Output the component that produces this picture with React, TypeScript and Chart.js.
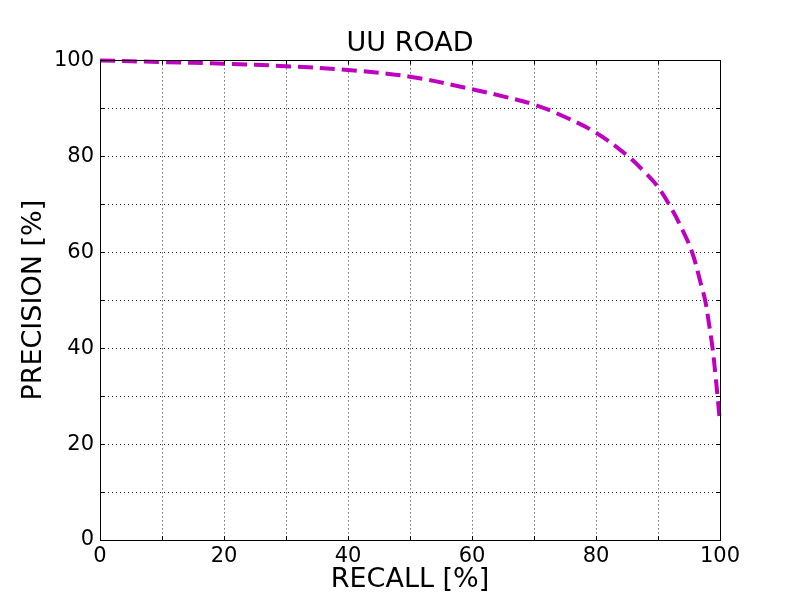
import React, { useEffect, useRef } from "react";
import { Chart, registerables } from "chart.js";

Chart.register(...registerables);

const recall = [0, 10, 20, 30, 40, 50, 60, 65, 70, 75, 80, 85, 88, 90, 92, 94, 95.5, 97, 97.6, 98.2, 98.8, 99.3, 99.6, 100];
const precision = [100, 99.65, 99.3, 98.8, 98.0, 96.6, 94.0, 92.5, 90.8, 88.2, 84.9, 80.2, 76.5, 73.6, 69.5, 64.5, 60, 53, 50, 45.3, 40, 34, 30, 24.5];
const titleText = "UU ROAD";
const xTitle = "RECALL [%]";
const yTitle = "PRECISION [%]";
const FONT = "'DejaVu Sans', sans-serif";

const frame = {
  id: "frame",
  afterDatasetsDraw(chart: any) {
    const { ctx, chartArea: a, scales } = chart;
    ctx.save();
    ctx.strokeStyle = "#000";
    ctx.lineWidth = 1;
    ctx.setLineDash([]);
    scales.x.ticks.forEach((t: any) => {
      const px = Math.round(scales.x.getPixelForValue(t.value)) + 0.5;
      const len = 4;
      ctx.beginPath();
      ctx.moveTo(px, a.bottom); ctx.lineTo(px, a.bottom - len);
      ctx.moveTo(px, a.top); ctx.lineTo(px, a.top + len);
      ctx.stroke();
    });
    scales.y.ticks.forEach((t: any) => {
      const py = Math.round(scales.y.getPixelForValue(t.value)) + 0.5;
      const len = 4;
      ctx.beginPath();
      ctx.moveTo(a.left, py); ctx.lineTo(a.left + len, py);
      ctx.moveTo(a.right, py); ctx.lineTo(a.right - len, py);
      ctx.stroke();
    });
    ctx.strokeRect(Math.round(a.left) + 0.5, Math.round(a.top) + 0.5, Math.round(a.right - a.left), Math.round(a.bottom - a.top));
    ctx.restore();
  },
};

const bg = {
  id: "bg",
  beforeDraw(chart: any) {
    const { ctx } = chart;
    ctx.save();
    ctx.fillStyle = "#fff";
    ctx.fillRect(0, 0, chart.width, chart.height);
    ctx.restore();
  },
};

export default function App() {
  const ref = useRef<HTMLCanvasElement>(null);
  useEffect(() => {
    document.body.style.margin = "0";
    const chart = new Chart(ref.current!, {
      type: "scatter",
      data: {
        datasets: [
          {
            data: recall.map((r, i) => ({ x: r, y: precision[i] })),
            showLine: true,
            borderColor: "#bf00bf",
            backgroundColor: "#bf00bf",
            borderWidth: 4,
            borderDash: [15, 7],
            pointRadius: 0,
            tension: 0.4,
            clip: false,
          } as any,
        ],
      },
      options: {
        animation: false,
        responsive: false,
        layout: { padding: { left: 0, right: 80, top: 0, bottom: 0 } },
        plugins: {
          legend: { display: false },
          tooltip: { enabled: false },
          title: {
            display: true,
            text: titleText,
            fullSize: false,
            color: "#000",
            font: { family: FONT, size: 27, weight: "normal", lineHeight: 1.2 },
            padding: { top: 28, bottom: 0 },
          },
        },
        scales: {
          x: {
            type: "linear",
            min: 0,
            max: 100,
            afterFit: (s: any) => { s.height = 60; },
            border: { display: false, dash: [1, 3] },
            grid: { color: "rgba(0,0,0,0.85)", lineWidth: 1, drawTicks: false },
            ticks: {
              stepSize: 10,
              padding: 4,
              color: "#000",
              maxRotation: 0,
              autoSkip: false,
              font: { family: FONT, size: 21 },
              callback: (v: any) => (v % 20 === 0 ? String(v) : ""),
            },
            title: {
              display: true,
              text: xTitle,
              color: "#000",
              font: { family: FONT, size: 27 },
              padding: { top: 0, bottom: 4 },
            },
          },
          y: {
            type: "linear",
            min: 0,
            max: 100,
            afterFit: (s: any) => { s.width = 100; },
            border: { display: false, dash: [1, 3] },
            grid: { color: "rgba(0,0,0,0.85)", lineWidth: 1, drawTicks: false },
            ticks: {
              stepSize: 10,
              padding: 6,
              color: "#000",
              autoSkip: false,
              font: { family: FONT, size: 21 },
              callback: (v: any) => (v % 20 === 0 ? String(v) : ""),
            },
            title: {
              display: true,
              text: yTitle,
              color: "#000",
              font: { family: FONT, size: 27 },
              padding: { top: 18, bottom: 0 },
            },
          },
        },
      } as any,
      plugins: [bg, frame],
    });
    return () => chart.destroy();
  }, []);
  return (
    <div style={{ position: "absolute", left: 0, top: 0, width: 800, height: 600 }}>
      <canvas ref={ref} width={800} height={600} />
    </div>
  );
}
